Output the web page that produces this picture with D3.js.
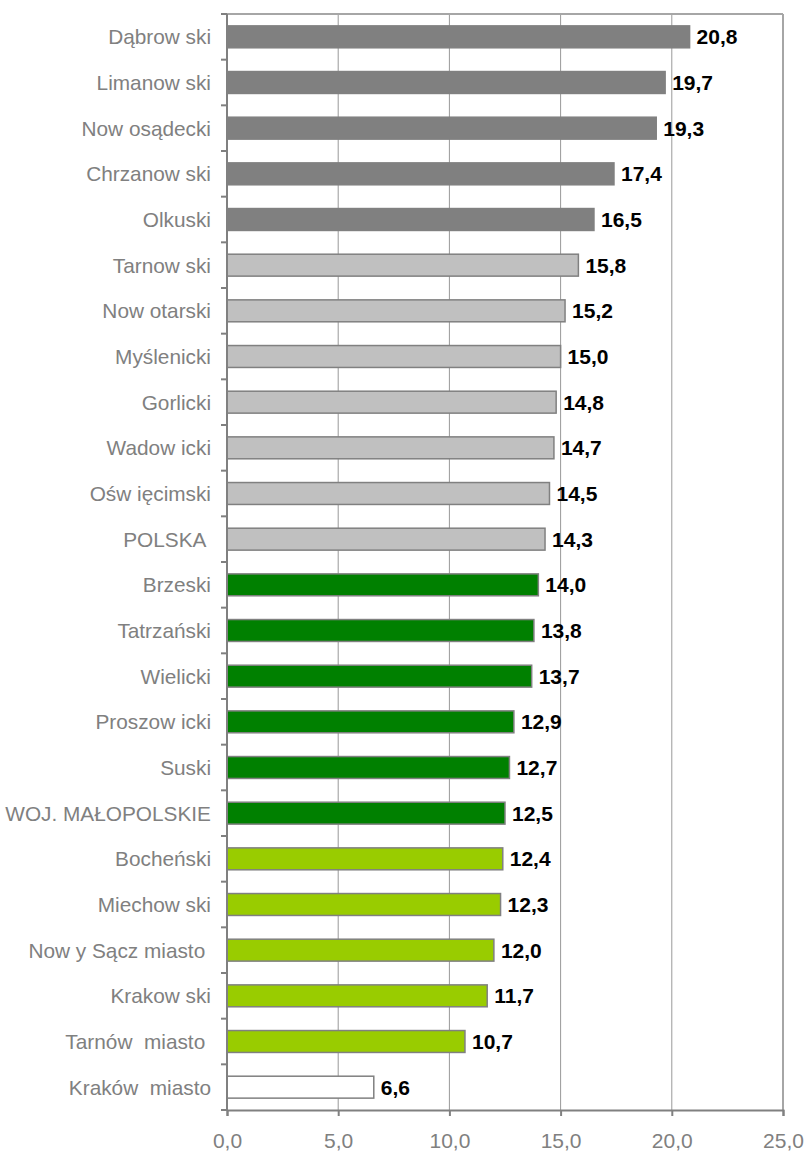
<!DOCTYPE html>
<html>
<head>
<meta charset="utf-8">
<script src="https://cdn.jsdelivr.net/npm/d3@7"></script>
<style>
  body { margin: 0; background: #fff; }
  text { font-family: "Liberation Sans", Arial, sans-serif; white-space: pre; }
</style>
</head>
<body>
<svg id="chart" width="808" height="1151"></svg>
<script>
const categories = [
  "Dąbrow ski", "Limanow ski", "Now osądecki", "Chrzanow ski", "Olkuski",
  "Tarnow ski", "Now otarski", "Myślenicki", "Gorlicki", "Wadow icki",
  "Ośw ięcimski", "POLSKA ", "Brzeski", "Tatrzański", "Wielicki",
  "Proszow icki", "Suski", "WOJ. MAŁOPOLSKIE", "Bocheński", "Miechow ski",
  "Now y Sącz miasto ", "Krakow ski", "Tarnów  miasto ", "Kraków  miasto"
];
const values = [
  20.8, 19.7, 19.3, 17.4, 16.5,
  15.8, 15.2, 15.0, 14.8, 14.7,
  14.5, 14.3, 14.0, 13.8, 13.7,
  12.9, 12.7, 12.5, 12.4, 12.3,
  12.0, 11.7, 10.7, 6.6
];
// colour group per bar: 0 dark grey, 1 light grey, 2 green, 3 lime, 4 white
const groups = [
  0, 0, 0, 0, 0,
  1, 1, 1, 1, 1,
  1, 1, 2, 2, 2,
  2, 2, 2, 3, 3,
  3, 3, 3, 4
];
const xTicks = [0, 5, 10, 15, 20, 25];

const fills = ["#808080", "#c0c0c0", "#008000", "#99cc00", "#ffffff"];
const strokes = ["#808080", "#808080", "#808080", "#808080", "#808080"];

const data = categories.map((c, i) => ({ name: c, value: values[i], group: groups[i] }));

const margin = { top: 14, right: 25, bottom: 41, left: 227 };
const width = 808, height = 1151;

const svg = d3.select("#chart");

const x = d3.scaleLinear()
  .domain([0, 25])
  .range([margin.left, width - margin.right]);

const y = d3.scaleBand()
  .domain(categories)
  .range([margin.top, height - margin.bottom])
  .paddingInner(0.52)
  .paddingOuter(0.26);

const yEdge = d3.scaleLinear()
  .domain([0, categories.length])
  .range([margin.top, height - margin.bottom]);

const locale = d3.formatLocale({ decimal: ",", thousands: " ", grouping: [3], currency: ["", ""] });
const fmt = locale.format(".1f");

// gridlines
svg.append("g")
  .selectAll("line")
  .data(xTicks.slice(1, -1))
  .join("line")
  .attr("x1", d => x(d)).attr("x2", d => x(d))
  .attr("y1", margin.top).attr("y2", height - margin.bottom)
  .attr("stroke", "#999")
  .attr("stroke-width", 1);

// plot frame top / right
svg.append("line")
  .attr("x1", x(0)).attr("x2", x(25))
  .attr("y1", margin.top).attr("y2", margin.top)
  .attr("stroke", "#a6a6a6").attr("stroke-width", 2);
svg.append("line")
  .attr("x1", x(25)).attr("x2", x(25))
  .attr("y1", margin.top).attr("y2", height - margin.bottom)
  .attr("stroke", "#a6a6a6").attr("stroke-width", 2);

// bars
svg.append("g")
  .selectAll("rect")
  .data(data)
  .join("rect")
  .attr("x", x(0))
  .attr("y", d => y(d.name))
  .attr("width", d => x(d.value) - x(0))
  .attr("height", y.bandwidth())
  .attr("fill", d => fills[d.group])
  .attr("stroke", d => strokes[d.group])
  .attr("stroke-width", 1.5);

// value labels
svg.append("g")
  .selectAll("text")
  .data(data)
  .join("text")
  .attr("x", d => x(d.value) + 7)
  .attr("y", d => y(d.name) + y.bandwidth() / 2)
  .attr("dy", "0.36em")
  .attr("font-size", 21)
  .attr("font-weight", "bold")
  .attr("fill", "#000")
  .text(d => fmt(d.value));

// category labels
svg.append("g")
  .selectAll("text")
  .data(data)
  .join("text")
  .attr("x", margin.left - 16)
  .attr("y", d => y(d.name) + y.bandwidth() / 2)
  .attr("dy", "0.36em")
  .attr("text-anchor", "end")
  .attr("font-size", 20.8)
  .attr("fill", "#808080")
  .text(d => d.name);

// left axis with ticks at band edges
svg.append("g")
  .selectAll("line")
  .data(d3.range(categories.length + 1))
  .join("line")
  .attr("x1", margin.left - 6).attr("x2", margin.left)
  .attr("y1", d => yEdge(d)).attr("y2", d => yEdge(d))
  .attr("stroke", "#808080").attr("stroke-width", 2);
svg.append("line")
  .attr("x1", margin.left).attr("x2", margin.left)
  .attr("y1", margin.top).attr("y2", height - margin.bottom)
  .attr("stroke", "#808080").attr("stroke-width", 2);

// bottom axis
const xAxis = svg.append("g")
  .attr("transform", `translate(0,${height - margin.bottom})`)
  .call(d3.axisBottom(x).tickValues(xTicks).tickFormat(fmt).tickSize(6).tickPadding(17));
xAxis.select(".domain").attr("stroke", "#808080").attr("stroke-width", 2);
xAxis.selectAll(".tick line").attr("stroke", "#808080").attr("stroke-width", 2);
xAxis.selectAll(".tick text")
  .attr("font-size", 21)
  .attr("fill", "#808080")
  .attr("font-family", "Liberation Sans, Arial, sans-serif");
</script>
</body>
</html>
